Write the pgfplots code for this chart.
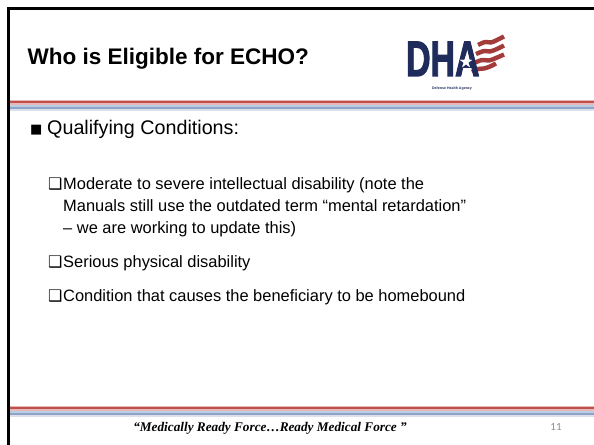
\documentclass[border=0pt]{standalone}
\usepackage{fontspec}
\setmainfont{Liberation Sans}
\newfontfamily\timesbi{Liberation Serif}
\newfontfamily\carlito{Carlito}
\newfontfamily\dejavu{DejaVu Sans}
\newfontfamily\heavy[FakeBold=2.5]{Liberation Sans Bold}
\usepackage{pgfplots}
\pgfplotsset{compat=1.18}

\definecolor{Navy}{HTML}{1F2B5B}
\definecolor{FlagRed}{HTML}{A33B3B}
\definecolor{BandPink}{HTML}{E6B9B8}
\definecolor{BandRed}{HTML}{C0504D}
\definecolor{BandLtBlue}{HTML}{B9CDE5}
\definecolor{BandBlue}{HTML}{8EA4C8}
\definecolor{BandLav}{HTML}{DCDFEC}
\definecolor{NumGray}{HTML}{8C8C8C}

% one striped band (top y in px)
\newcommand{\band}[1]{%
  \addplot[BandPink, line width=1.6bp] coordinates {(10,#1+0.5)(594,#1+0.5)};
  \addplot[BandRed, line width=2bp] coordinates {(10,#1+2.3)(594,#1+2.3)};
  \addplot[BandPink, line width=1.6bp] coordinates {(10,#1+4.1)(594,#1+4.1)};
  \addplot[BandLtBlue, line width=2.2bp] coordinates {(10,#1+6.1)(594,#1+6.1)};
  \addplot[BandBlue, line width=2bp] coordinates {(10,#1+8.2)(594,#1+8.2)};
  \addplot[BandLav, line width=2bp] coordinates {(10,#1+10.2)(594,#1+10.2)};
}

\begin{document}
\begin{tikzpicture}
\path[use as bounding box, fill=white] (0,0) rectangle (594bp,445bp);
\begin{axis}[
  at={(0,0)}, anchor=south west,
  width=594bp, height=445bp, scale only axis,
  xmin=0, xmax=594, ymin=0, ymax=445,
  y dir=reverse, hide axis, clip=false,
]
% slide frame
\addplot[black, line width=3bp] coordinates {(8.5,446)(8.5,8.5)(596,8.5)};

% header and footer bands
\band{100}
\band{406}

% title
\node[anchor=base west, font=\bfseries\fontsize{22.6}{26}\selectfont] at (24,65) {Who is Eligible for ECHO?};

% logo: flag stripes, letters, star
\addplot[FlagRed, line width=4.4bp, smooth] coordinates {(478,45)(485,42)(491,42.5)(497,40)(504,36.5)};
\addplot[FlagRed, line width=4.4bp, smooth] coordinates {(476,54)(484,51)(490,51.5)(497,49)(504,45.5)};
\addplot[FlagRed, line width=4.4bp, smooth] coordinates {(474,63)(482,60)(489,60.5)(496,58)(504,54.5)};
\addplot[FlagRed, line width=4.4bp, smooth] coordinates {(472,72)(478,69)(484,68.5)(490,66.5)(496,63.5)};
\node[anchor=base west, text=Navy, inner sep=0pt, text depth=0pt, xscale=0.68,
      font=\heavy\fontsize{50}{50}\selectfont] at (406,76) {DHA};
\addplot[white, fill=white, line width=0.2bp] coordinates {
  (466.0,55.5)(467.4,59.9)(472.0,59.9)(468.3,62.6)(469.7,67.0)
  (466.0,64.3)(462.3,67.0)(463.7,62.6)(460.0,59.9)(464.6,59.9)(466.0,55.5)};
\node[text=Navy, inner sep=0pt, font=\bfseries\fontsize{3.6}{4}\selectfont] at (452,88.5) {Defense Health Agency};

% level 1 bullet
\node[anchor=base west, inner sep=0pt, font=\dejavu\fontsize{13}{14}\selectfont] at (30,133.5) {■};
\node[anchor=base west, inner sep=0pt, font=\fontsize{19.8}{24}\selectfont] at (47,134) {Qualifying Conditions:};

% level 2 bullets
\begin{scope}[every node/.style={anchor=base west, inner sep=0pt, font=\fontsize{16.5}{20}\selectfont}]
\node[font=\dejavu\fontsize{16}{16}\selectfont] at (48,189.5) {❑};
\node at (63,189) {Moderate to severe intellectual disability (note the};
\node at (63,211) {Manuals still use the outdated term “mental retardation”};
\node at (63,233) {– we are working to update this)};
\node[font=\dejavu\fontsize{16}{16}\selectfont] at (48,267.5) {❑};
\node at (63,267) {Serious physical disability};
\node[font=\dejavu\fontsize{16}{16}\selectfont] at (48,301.5) {❑};
\node at (63,301) {Condition that causes the beneficiary to be homebound};
\end{scope}

% footer
\node[anchor=base, inner sep=0pt, font=\timesbi\bfseries\itshape\fontsize{13.3}{16}\selectfont] at (270,431) {“Medically Ready Force…Ready Medical Force ”};
\node[anchor=base, inner sep=0pt, text=NumGray, font=\carlito\fontsize{11}{12}\selectfont] at (556,430) {11};
\end{axis}
\end{tikzpicture}
\end{document}
